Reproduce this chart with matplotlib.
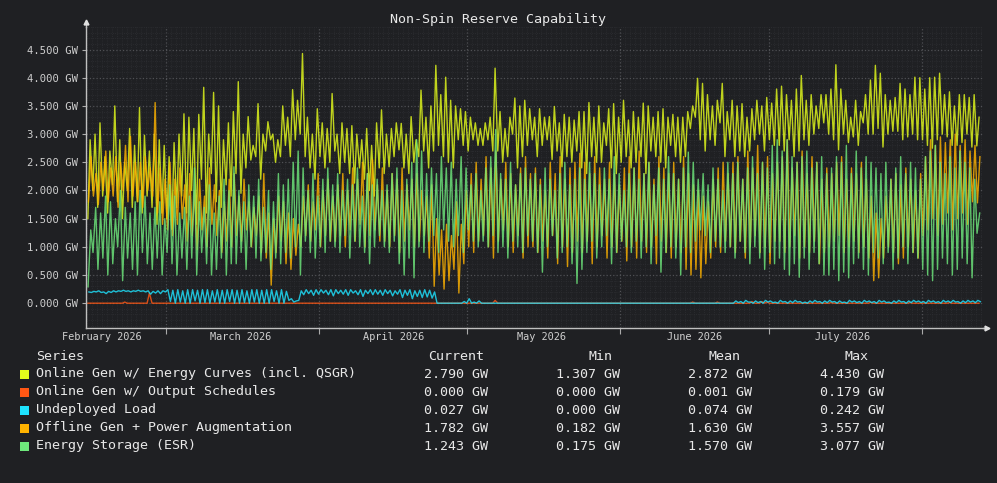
import numpy as np
import pandas as pd
import matplotlib
matplotlib.use('Agg')
import matplotlib.pyplot as plt
import matplotlib.dates as mdates
from matplotlib.ticker import MultipleLocator, FixedLocator
from matplotlib.patches import Rectangle

# daily peak / trough readings, starting 2026-02-13 (181 days)
start_day = '2026-02-13'

online_curves_hi = [
    2.9, 3.0, 3.2, 2.6, 2.7, 3.5, 2.9, 2.5, 3.1, 2.8,
    3.47, 2.98, 2.7, 3.0, 2.9, 2.8, 2.6, 2.85, 3.0, 3.36,
    3.3, 3.1, 3.35, 3.83, 3.0, 3.74, 3.5, 2.9, 3.2, 3.4,
    3.93, 3.0, 3.31, 2.8, 3.54, 3.0, 3.22, 3.0, 2.9, 3.5,
    3.3, 3.79, 3.6, 4.43, 3.3, 3.0, 3.45, 3.2, 3.1, 3.72,
    3.0, 3.2, 3.1, 3.15, 3.0, 2.9, 3.1, 2.8, 3.2, 3.43,
    3.0, 3.1, 3.2, 3.19, 3.0, 3.31, 2.9, 3.78, 3.3, 3.5,
    4.22, 3.7, 4.01, 3.6, 3.5, 3.45, 3.4, 3.3, 3.2, 3.1,
    3.2, 3.3, 4.17, 3.4, 3.1, 3.3, 3.64, 3.5, 3.6, 3.45,
    3.3, 3.45, 3.3, 3.31, 3.49, 3.2, 3.35, 3.3, 3.25, 3.4,
    3.4, 3.56, 3.3, 3.5, 3.2, 3.45, 3.54, 3.3, 3.6, 3.25,
    3.4, 3.3, 3.55, 3.5, 3.3, 3.4, 3.45, 3.3, 3.35, 3.3,
    3.3, 3.4, 3.5, 3.99, 3.9, 3.7, 3.5, 3.6, 3.9, 3.4,
    3.6, 3.5, 3.54, 3.3, 3.45, 3.6, 3.5, 3.65, 3.55, 3.8,
    3.85, 3.7, 3.6, 3.8, 4.04, 3.6, 3.7, 3.5, 3.7, 3.7,
    3.8, 4.23, 3.8, 3.6, 3.3, 3.6, 3.4, 3.7, 3.96, 4.22,
    4.08, 3.7, 3.6, 3.65, 3.9, 3.8, 3.7, 4.01, 4.0, 3.8,
    4.0, 4.01, 4.08, 3.7, 3.75, 3.5, 3.7, 3.7, 3.65, 3.7, 3.3,
]
online_curves_lo = [
    1.5, 2.0, 1.7, 1.9, 1.6, 2.1, 1.8, 1.5, 2.0, 1.7,
    1.8, 1.6, 1.9, 1.7, 1.4, 1.6, 1.5, 1.31, 1.7, 1.9,
    1.6, 2.0, 1.4, 2.2, 1.6, 2.3, 1.8, 1.7, 2.1, 1.9,
    2.3, 1.95, 2.4, 2.54, 2.6, 2.2, 2.7, 2.9, 2.5, 2.6,
    2.8, 2.6, 2.9, 3.0, 2.6, 2.4, 2.2, 2.6, 2.4, 2.5,
    2.7, 2.3, 2.5, 2.3, 2.13, 2.4, 2.2, 2.0, 1.9, 2.4,
    2.3, 2.42, 2.6, 2.72, 2.4, 2.3, 2.5, 2.6, 2.7, 2.4,
    2.7, 2.8, 2.6, 2.5, 2.4, 2.9, 2.8, 2.7, 2.9, 2.8,
    2.8, 2.9, 2.7, 2.7, 2.5, 2.6, 3.0, 2.4, 2.6, 2.8,
    2.9, 2.6, 2.8, 2.9, 2.55, 2.7, 2.42, 2.6, 2.5, 2.7,
    2.4, 2.3, 2.6, 2.5, 2.5, 2.8, 2.4, 2.3, 2.5, 2.6,
    2.4, 2.5, 2.6, 2.3, 2.7, 2.6, 2.5, 2.4, 2.8, 2.6,
    2.5, 2.6, 3.1, 3.3, 2.9, 2.7, 2.9, 2.8, 3.2, 2.6,
    2.9, 2.6, 2.7, 2.6, 2.7, 2.9, 3.0, 2.7, 2.9, 2.8,
    2.8, 2.7, 2.9, 2.6, 2.7, 2.9, 2.8, 3.0, 3.1, 3.2,
    3.0, 2.9, 2.72, 3.0, 2.85, 2.95, 2.8, 3.2, 3.0, 3.0,
    3.1, 2.77, 3.0, 3.05, 3.05, 2.9, 2.95, 3.0, 2.9, 2.9,
    2.8, 2.75, 2.9, 3.0, 2.95, 2.8, 2.8, 2.85, 3.0, 2.77, 2.79,
]

offline_hi = [
    2.6, 2.3, 2.5, 2.7, 2.4, 2.6, 2.5, 2.8, 2.96, 2.5,
    2.5, 2.6, 2.4, 3.56, 2.4, 2.2, 2.5, 2.2, 2.4, 2.1,
    2.3, 2.0, 2.2, 1.9, 2.4, 2.1, 2.0, 1.8, 2.2, 2.3,
    1.9, 2.2, 1.8, 1.7, 1.9, 2.3, 1.6, 1.5, 1.9, 1.8,
    1.6, 1.5, 1.4, 1.9, 2.1, 1.8, 2.3, 2.0, 2.2, 1.9,
    2.1, 2.3, 2.0, 2.4, 2.2, 2.5, 2.3, 2.55, 2.1, 2.4,
    2.0, 2.3, 2.2, 2.4, 2.1, 2.2, 2.3, 2.0, 1.9, 2.1,
    1.5, 1.3, 1.4, 1.2, 1.8, 1.4, 2.0, 2.3, 2.5, 2.2,
    2.6, 2.4, 2.7, 2.2, 2.5, 2.3, 2.1, 2.4, 2.6, 2.3,
    2.4, 2.2, 2.0, 2.5, 2.3, 2.6, 2.2, 2.4, 2.5, 2.66,
    2.5, 2.3, 2.6, 2.4, 2.2, 2.5, 2.3, 2.1, 2.4, 2.6,
    2.4, 2.7, 2.3, 2.5, 2.2, 2.6, 2.4, 2.3, 2.5, 2.2,
    2.6, 2.3, 2.1, 2.0, 1.9, 1.8, 2.2, 2.4, 2.5, 2.3,
    2.5, 2.6, 2.2, 2.7, 2.4, 2.8, 2.5, 2.6, 2.3, 2.5,
    2.6, 2.9, 2.4, 2.5, 2.7, 2.3, 2.6, 2.5, 2.2, 2.4,
    2.3, 2.5, 2.6, 2.2, 2.4, 2.3, 2.5, 2.2, 1.9, 1.6,
    1.5, 1.9, 2.2, 2.3, 2.1, 2.4, 2.2, 2.0, 2.3, 2.6,
    2.9, 2.8, 2.95, 2.85, 2.9, 3.0, 2.8, 2.9, 2.7, 2.8, 2.6,
]
offline_lo = [
    1.8, 1.9, 1.75, 2.0, 1.8, 1.9, 1.7, 2.0, 1.8, 1.9,
    1.8, 1.7, 2.0, 1.9, 1.6, 1.4, 1.3, 1.2, 1.4, 1.5,
    1.1, 1.2, 0.95, 1.3, 1.0, 1.4, 1.2, 0.9, 1.1, 1.0,
    1.2, 1.1, 1.3, 1.0, 1.2, 0.9, 0.8, 0.32, 0.9, 1.1,
    0.7, 0.6, 0.85, 1.0, 1.2, 1.1, 1.3, 1.0, 1.2, 1.1,
    1.1, 1.2, 1.0, 1.3, 1.1, 1.4, 1.0, 1.2, 1.3, 1.1,
    1.1, 1.0, 1.2, 0.9, 1.1, 1.3, 1.0, 1.1, 1.2, 0.8,
    0.3, 0.5, 0.25, 0.4, 0.6, 0.18, 0.7, 1.0, 0.9, 1.1,
    1.2, 1.0, 0.8, 1.1, 1.3, 1.0, 0.9, 1.2, 0.8, 1.0,
    1.0, 0.9, 1.1, 0.8, 1.2, 0.7, 1.0, 0.65, 0.9, 1.1,
    0.9, 1.1, 0.7, 1.0, 1.2, 0.8, 1.0, 0.9, 1.1, 0.75,
    1.0, 0.8, 1.1, 0.9, 1.0, 0.7, 1.1, 0.9, 0.8, 1.0,
    0.9, 0.6, 0.5, 0.6, 0.45, 0.7, 0.8, 1.0, 0.9, 1.1,
    1.0, 0.9, 1.1, 0.8, 1.0, 1.2, 0.9, 1.0, 0.7, 1.1,
    1.1, 0.9, 1.0, 1.2, 0.8, 1.0, 0.9, 1.1, 0.7, 0.9,
    1.0, 1.1, 1.2, 0.9, 1.0, 1.1, 0.9, 1.0, 0.8, 0.4,
    0.45, 0.8, 1.0, 0.9, 0.7, 0.8, 1.0, 0.9, 0.8, 1.2,
    1.3, 1.5, 1.2, 1.4, 1.6, 1.3, 1.5, 1.6, 1.4, 1.8, 1.78,
]

storage_hi = [
    1.3, 1.7, 1.6, 1.9, 1.8, 1.5, 2.0, 1.7, 1.6, 1.8,
    2.0, 1.9, 1.6, 1.7, 1.8, 1.5, 2.1, 1.9, 1.6, 1.7,
    1.9, 2.4, 1.8, 1.7, 2.1, 1.6, 1.9, 2.2, 2.0, 2.42,
    2.0, 1.8, 2.1, 1.9, 2.2, 1.7, 2.0, 1.8, 2.3, 2.1,
    2.2, 2.5, 2.7, 2.4, 2.0, 2.3, 1.9, 2.2, 2.4, 2.1,
    2.3, 2.0, 2.2, 2.1, 2.4, 1.9, 2.3, 2.1, 2.2, 2.0,
    2.1, 2.3, 2.4, 2.0, 2.2, 2.5, 2.9, 2.7, 2.3, 2.4,
    2.3, 2.6, 2.4, 2.5, 2.2, 2.6, 2.4, 2.1, 2.3, 2.0,
    2.4, 2.6, 3.08, 2.3, 2.2, 2.5, 2.1, 2.3, 2.4, 2.2,
    2.3, 2.1, 2.4, 2.2, 2.0, 2.3, 2.5, 2.1, 2.2, 2.4,
    2.2, 2.5, 2.3, 2.1, 2.4, 2.2, 2.6, 2.3, 2.0, 2.3,
    2.4, 2.2, 2.3, 2.5, 2.1, 2.4, 2.2, 2.6, 2.3, 2.2,
    2.4, 2.68, 2.5, 2.2, 2.3, 2.1, 2.4, 2.2, 2.0, 2.5,
    2.3, 2.5, 2.2, 2.4, 2.6, 2.3, 2.5, 2.4, 2.8, 2.9,
    2.7, 2.9, 2.6, 2.5, 2.6, 2.7, 2.4, 2.5, 2.6, 2.3,
    2.4, 2.6, 2.5, 2.8, 2.3, 2.7, 2.4, 2.6, 2.5, 2.4,
    2.3, 2.5, 2.2, 2.4, 2.6, 2.3, 2.5, 2.4, 2.2, 2.6,
    2.7, 2.8, 2.5, 2.3, 2.6, 2.4, 2.7, 2.5, 2.4, 2.2, 1.6,
]
storage_lo = [
    0.29, 0.9, 0.6, 0.8, 0.5, 0.7, 1.0, 0.4, 0.8, 0.6,
    0.5, 0.9, 0.7, 0.6, 0.8, 0.5, 0.9, 0.7, 0.5, 0.8,
    0.6, 0.8, 0.5, 0.9, 0.7, 0.5, 0.6, 0.8, 0.5, 0.7,
    0.7, 0.9, 0.6, 1.0, 0.8, 0.75, 0.9, 0.6, 0.8, 0.7,
    0.9, 0.8, 1.0, 0.5, 1.1, 0.9, 0.8, 1.0, 0.9, 1.1,
    1.0, 0.9, 1.2, 0.8, 1.1, 1.0, 0.9, 0.7, 1.0, 1.2,
    1.0, 0.9, 1.1, 0.7, 0.5, 0.8, 0.45, 1.0, 0.9, 1.1,
    1.2, 0.9, 1.3, 1.1, 1.0, 1.2, 0.9, 1.3, 1.1, 1.0,
    1.1, 1.0, 1.2, 0.9, 1.0, 0.8, 1.1, 1.0, 0.9, 1.2,
    1.1, 0.9, 0.55, 1.0, 1.2, 0.8, 0.9, 1.0, 0.7, 0.35,
    0.6, 0.9, 1.1, 0.8, 1.0, 1.2, 0.7, 0.9, 1.1, 1.0,
    0.9, 1.1, 0.8, 1.0, 0.7, 1.2, 0.55, 0.9, 1.0, 0.8,
    0.5, 1.0, 0.9, 1.1, 1.3, 1.2, 0.9, 1.1, 1.0, 0.9,
    1.0, 0.8, 1.1, 0.9, 0.7, 1.0, 0.8, 0.6, 0.9, 0.7,
    0.8, 0.6, 0.5, 0.7, 0.46, 0.8, 0.6, 0.9, 0.7, 0.5,
    0.5, 0.6, 0.4, 0.55, 0.45, 0.7, 0.8, 0.6, 0.5, 0.9,
    0.8, 0.7, 0.9, 0.6, 0.8, 1.0, 0.7, 0.9, 0.8, 0.6,
    0.5, 0.4, 0.6, 0.8, 0.7, 0.5, 0.6, 0.8, 0.7, 0.45, 1.24,
]

undeployed_hi = (
    [0.20, 0.21, 0.22, 0.20, 0.21, 0.22, 0.22, 0.23, 0.22, 0.22,
     0.23, 0.22, 0.22, 0.21, 0.22, 0.22]
    + [0.24, 0.23, 0.24, 0.22, 0.24, 0.24, 0.23, 0.24, 0.24, 0.22,
       0.24, 0.23, 0.24, 0.24, 0.23, 0.24, 0.22, 0.24, 0.24, 0.23,
       0.24, 0.24, 0.22, 0.24, 0.21]
    + [0.08, 0.04]
    + [0.22, 0.24, 0.23, 0.24, 0.24, 0.23, 0.24, 0.24, 0.23, 0.24,
       0.24, 0.22, 0.24, 0.23, 0.24, 0.24, 0.23, 0.24, 0.23, 0.22,
       0.24, 0.23, 0.24, 0.22, 0.23, 0.24, 0.23]
    + [0.20, 0.0, 0.0, 0.0, 0.0, 0.0, 0.03, 0.08, 0.02, 0.04]
    + [0.0] * 51
    + [0.04, 0.03, 0.05, 0.02, 0.04, 0.03, 0.05, 0.04, 0.02, 0.05,
       0.03, 0.04, 0.05, 0.03, 0.02, 0.04, 0.05, 0.03, 0.04, 0.05,
       0.03, 0.04, 0.02, 0.05, 0.04, 0.03, 0.05, 0.04, 0.03, 0.05,
       0.04, 0.02, 0.04, 0.05, 0.03, 0.04, 0.05, 0.04, 0.03, 0.05,
       0.04, 0.03, 0.05, 0.04, 0.05, 0.03, 0.04, 0.05, 0.04, 0.05]
)
undeployed_lo = (
    [0.19, 0.20, 0.19, 0.17, 0.19, 0.20, 0.21, 0.21, 0.20, 0.21,
     0.21, 0.20, 0.16, 0.18, 0.17, 0.20]
    + [0.03, 0.0, 0.02, 0.0, 0.0, 0.04, 0.0, 0.01, 0.0, 0.02,
       0.0, 0.0, 0.03, 0.0, 0.0, 0.01, 0.0, 0.02, 0.0, 0.0,
       0.0, 0.03, 0.0, 0.0, 0.05]
    + [0.02, 0.05]
    + [0.15, 0.17, 0.14, 0.16, 0.18, 0.15, 0.13, 0.17, 0.16, 0.14,
       0.18, 0.15, 0.12, 0.17, 0.15, 0.16, 0.14, 0.17, 0.13, 0.16,
       0.10, 0.14, 0.08, 0.12, 0.10, 0.11, 0.09]
    + [0.0] * 61
    + [0.01, 0.0, 0.02, 0.0, 0.01, 0.0, 0.02, 0.01, 0.0, 0.02,
       0.0, 0.01, 0.02, 0.0, 0.0, 0.01, 0.02, 0.0, 0.01, 0.02,
       0.0, 0.01, 0.0, 0.02, 0.01, 0.0, 0.02, 0.01, 0.0, 0.02,
       0.01, 0.0, 0.01, 0.02, 0.0, 0.01, 0.02, 0.01, 0.0, 0.02,
       0.01, 0.0, 0.02, 0.01, 0.02, 0.0, 0.01, 0.02, 0.01, 0.027]
)

# output-schedule series is flat zero apart from a few spikes
sched_spike_days = [7, 12, 82, 122, 127, 134, 136, 137, 150, 158, 166, 174]
sched_spike_vals = [0.02, 0.179, 0.05, 0.02, 0.02, 0.03, 0.03, 0.02, 0.01, 0.015, 0.01, 0.01]

series_names = ['Online Gen w/ Energy Curves (incl. QSGR)',
                'Online Gen w/ Output Schedules',
                'Undeployed Load',
                'Offline Gen + Power Augmentation',
                'Energy Storage (ESR)']
series_colors = ['#e4fb1c', '#ff5714', '#1ee3ff', '#ffb300', '#6ee87c']
# hour of day of each series' daily peak / trough
peak_hours = [(15, 4), (15, 4), (9, 21), (19, 7), (18, 5)]
cur_vals = ['2.790 GW', '0.000 GW', '0.027 GW', '1.782 GW', '1.243 GW']
min_vals = ['1.307 GW', '0.000 GW', '0.000 GW', '0.182 GW', '0.175 GW']
mean_vals = ['2.872 GW', '0.001 GW', '0.074 GW', '1.630 GW', '1.570 GW']
max_vals = ['4.430 GW', '0.179 GW', '0.242 GW', '3.557 GW', '3.077 GW']

BG = '#1f2023'
FG = '#e8e8e8'
MONO = ['DejaVu Sans Mono']


def zigzag(hi, lo, hours):
    h_hi, h_lo = hours
    days = pd.date_range(start_day, periods=len(hi), freq='D')
    th = (days + pd.Timedelta(hours=h_hi)).values
    tl = (days + pd.Timedelta(hours=h_lo)).values
    t = np.concatenate([th, tl])
    v = np.concatenate([np.asarray(hi, float), np.asarray(lo, float)])
    order = np.argsort(t)
    return t[order], v[order]


n_days = len(online_curves_hi)
sched_hi = np.zeros(n_days)
sched_hi[sched_spike_days] = sched_spike_vals
sched_lo = np.zeros(n_days)

pairs = [(online_curves_hi, online_curves_lo),
         (sched_hi, sched_lo),
         (undeployed_hi, undeployed_lo),
         (offline_hi, offline_lo),
         (storage_hi, storage_lo)]

W, H = 997, 483
fig = plt.figure(figsize=(W / 100, H / 100), dpi=100, facecolor=BG)
ax = fig.add_axes([86 / W, 1 - 328 / H, (983 - 86) / W, (328 - 27) / H], facecolor=BG)

for (hi, lo), c, hrs in zip(pairs, series_colors, peak_hours):
    t, v = zigzag(hi, lo, hrs)
    ax.plot(t, v, color=c, lw=1.0, alpha=0.82)

ax.set_xlim(pd.Timestamp('2026-02-12 19:00'), pd.Timestamp('2026-08-13 10:00'))
ax.set_ylim(-0.44, 4.9)

# grids
ax.yaxis.set_major_locator(FixedLocator(np.arange(0, 4.51, 0.5)))
ax.yaxis.set_minor_locator(MultipleLocator(0.1))
ax.xaxis.set_major_locator(mdates.MonthLocator(bymonthday=1))
ax.xaxis.set_minor_locator(mdates.DayLocator(interval=1))
ax.grid(which='minor', color='#2e2f33', linestyle=':', lw=0.6)
ax.grid(which='major', color='#505155', linestyle=':', lw=0.9)
ax.set_axisbelow(True)

ax.set_yticklabels([f'{y:.3f} GW' for y in np.arange(0, 4.51, 0.5)])
ax.set_xticklabels([])
ax.tick_params(axis='y', which='major', length=3, color='#aaaaaa',
               labelcolor='#cfcfcf', labelsize=7.6, pad=3)
ax.tick_params(axis='x', which='major', length=4, color='#aaaaaa')
ax.tick_params(which='minor', length=0)
for lab in ax.get_yticklabels():
    lab.set_family(MONO)

for s in ['top', 'right']:
    ax.spines[s].set_visible(False)
for s in ['left', 'bottom']:
    ax.spines[s].set_color('#c0c0c0')
    ax.spines[s].set_linewidth(1.0)

# axis arrows
ax.plot([0, 0], [1, 1.015], color='#c0c0c0', lw=1, transform=ax.transAxes, clip_on=False)
ax.plot([0], [1.018], marker='^', ms=3.5, color='#e0e0e0', transform=ax.transAxes, clip_on=False)
ax.plot([1, 1.004], [0, 0], color='#c0c0c0', lw=1, transform=ax.transAxes, clip_on=False)
ax.plot([1.005], [0], marker='>', ms=3.5, color='#e0e0e0', transform=ax.transAxes, clip_on=False)

# month labels centred on the 16th
month_labels = ['February 2026', 'March 2026', 'April 2026', 'May 2026', 'June 2026', 'July 2026']
for i, lab in enumerate(month_labels):
    ax.text(pd.Timestamp(2026, 2 + i, 16), -0.031, lab, transform=ax.get_xaxis_transform(),
            ha='center', va='center', color='#cfcfcf', fontsize=7.4, family=MONO)

fig.text(498 / W, 1 - 19 / H, 'Non-Spin Reserve Capability', ha='center', va='center',
         color=FG, fontsize=9.6, family=MONO)


# legend table
def fy(py):
    return 1 - py / H


fig.text(36 / W, fy(356), 'Series', ha='left', va='center', color=FG, fontsize=9.6, family=MONO)
for txt, cx in zip(['Current', 'Min', 'Mean', 'Max'], [456, 600, 724, 856]):
    fig.text(cx / W, fy(356), txt, ha='center', va='center', color=FG, fontsize=9.6, family=MONO)

for i, name in enumerate(series_names):
    ry = 374 + 18 * i
    fig.add_artist(Rectangle((20 / W, fy(ry + 4.5)), 9 / W, 9 / H, transform=fig.transFigure,
                             facecolor=series_colors[i], edgecolor='none'))
    fig.text(36 / W, fy(ry), name, ha='left', va='center', color=FG, fontsize=9.6, family=MONO)
    for col, rx in zip([cur_vals, min_vals, mean_vals, max_vals], [488, 620, 752, 884]):
        fig.text(rx / W, fy(ry), col[i], ha='right', va='center', color=FG, fontsize=9.6, family=MONO)

fig.savefig('out.png', dpi=100, facecolor=BG)
